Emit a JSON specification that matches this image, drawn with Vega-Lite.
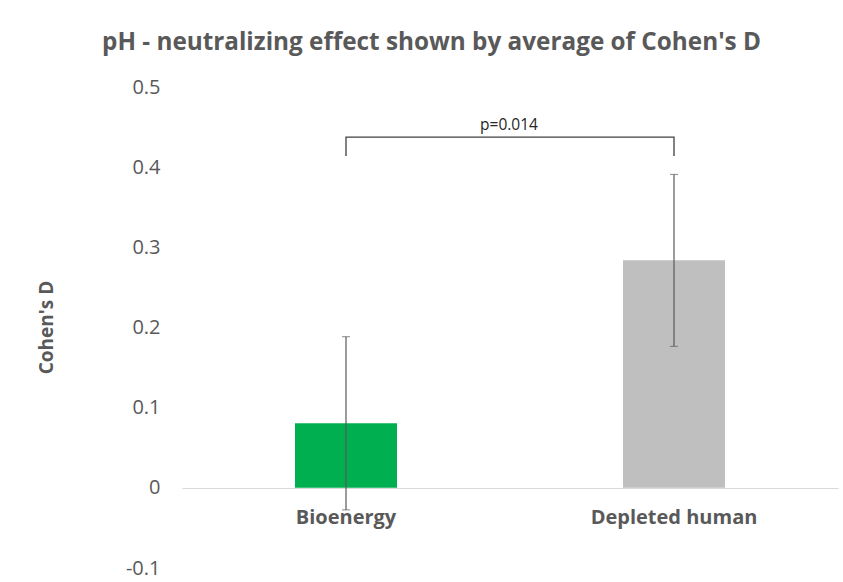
{
  "$schema": "https://vega.github.io/schema/vega-lite/v6.json",
  "autosize": "none",
  "width": 656,
  "height": 481,
  "padding": {"left": 182, "top": 87, "right": 5, "bottom": 14},
  "background": "white",
  "title": {
    "text": "pH - neutralizing effect shown by average of Cohen's D",
    "anchor": "start",
    "frame": "group",
    "dx": -80,
    "offset": 22,
    "font": "Open Sans",
    "fontSize": 24.3,
    "fontWeight": "bold",
    "color": "#595959"
  },
  "config": {
    "view": {"stroke": null},
    "font": "Open Sans"
  },
  "data": {
    "values": [
      {"Category": "Bioenergy", "mean": 0.0805, "lo": -0.0275, "hi": 0.1885},
      {"Category": "Depleted human", "mean": 0.284, "lo": 0.1765, "hi": 0.391}
    ]
  },
  "layer": [
    {
      "mark": {"type": "bar", "size": 102},
      "encoding": {
        "x": {
          "field": "Category",
          "type": "nominal",
          "sort": ["Bioenergy", "Depleted human"],
          "scale": {"paddingInner": 0, "paddingOuter": 0},
          "axis": {
            "title": null,
            "orient": "bottom",
            "offset": -80,
            "labelAngle": 0,
            "ticks": false,
            "grid": false,
            "domainColor": "#d9d9d9",
            "domainWidth": 1,
            "labelPadding": 19,
            "labelFont": "Open Sans",
            "labelFontSize": 20,
            "labelFontWeight": "bold",
            "labelColor": "#595959"
          }
        },
        "y": {
          "field": "mean",
          "type": "quantitative",
          "title": "Cohen's D",
          "scale": {"domain": [-0.1, 0.5], "nice": false, "zero": false},
          "axis": {
            "title": "Cohen's D",
            "values": [-0.1, 0, 0.1, 0.2, 0.3, 0.4, 0.5],
            "labelExpr": "datum.value == 0 ? '0' : (datum.value < 0 ? '-' + format(-datum.value, '.1f') : format(datum.value, '.1f'))",
            "grid": false,
            "domain": false,
            "ticks": false,
            "labelPadding": 22,
            "labelFont": "Open Sans",
            "labelFontSize": 20,
            "labelColor": "#595959",
            "titleFont": "Open Sans",
            "titleFontSize": 19,
            "titleFontWeight": "bold",
            "titleColor": "#595959",
            "titleAngle": -90,
            "titleX": -136,
            "titleY": 240,
            "titleAlign": "center",
            "titleBaseline": "middle"
          }
        },
        "color": {
          "field": "Category",
          "type": "nominal",
          "scale": {"domain": ["Bioenergy", "Depleted human"], "range": ["#00b050", "#bfbfbf"]},
          "legend": null
        }
      }
    },
    {
      "mark": {"type": "errorbar", "ticks": {"size": 8, "color": "#595959"}, "rule": {"color": "#595959", "strokeWidth": 1.2}},
      "encoding": {
        "x": {"field": "Category", "type": "nominal", "sort": ["Bioenergy", "Depleted human"]},
        "y": {"field": "lo", "type": "quantitative", "title": "Cohen's D"},
        "y2": {"field": "hi"}
      }
    },
    {
      "data": {
        "values": [
          {"Category": "Bioenergy", "v": 0.414, "ord": 1},
          {"Category": "Bioenergy", "v": 0.4375, "ord": 2},
          {"Category": "Depleted human", "v": 0.4375, "ord": 3},
          {"Category": "Depleted human", "v": 0.414, "ord": 4}
        ]
      },
      "mark": {"type": "line", "color": "#404040", "strokeWidth": 1.3},
      "encoding": {
        "x": {"field": "Category", "type": "nominal", "sort": ["Bioenergy", "Depleted human"]},
        "y": {"field": "v", "type": "quantitative", "title": "Cohen's D"},
        "order": {"field": "ord", "type": "quantitative"}
      }
    },
    {
      "data": {"values": [{"label": "p=0.014", "v": 0.446}]},
      "mark": {"type": "text", "fontSize": 15.5, "font": "Open Sans", "color": "#262626", "baseline": "alphabetic", "align": "center", "x": 327},
      "encoding": {
        "y": {"field": "v", "type": "quantitative", "title": "Cohen's D"},
        "text": {"field": "label"}
      }
    }
  ]
}
